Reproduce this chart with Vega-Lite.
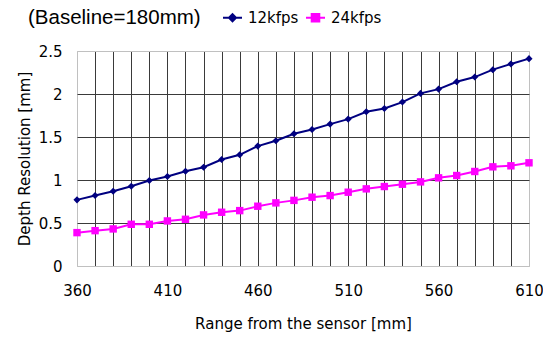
{
  "$schema": "https://vega.github.io/schema/vega-lite/v6.json",
  "width": 452,
  "height": 215,
  "autosize": "none",
  "padding": {"left": 77, "top": 51, "right": 14, "bottom": 71},
  "background": "white",
  "title": {
    "text": "(Baseline=180mm)",
    "anchor": "start",
    "frame": "group",
    "dx": -49,
    "dy": 21,
    "offset": 0,
    "font": "Liberation Sans",
    "fontSize": 20.5,
    "fontWeight": "normal",
    "color": "black"
  },
  "config": {
    "view": {"stroke": "#c0c0c0", "strokeWidth": 1},
    "font": "DejaVu Sans"
  },
  "data": {
    "values": [
      {"range": 360, "series": "12kfps", "res": 0.769},
      {"range": 370, "series": "12kfps", "res": 0.819},
      {"range": 380, "series": "12kfps", "res": 0.870},
      {"range": 390, "series": "12kfps", "res": 0.928},
      {"range": 400, "series": "12kfps", "res": 0.994},
      {"range": 410, "series": "12kfps", "res": 1.040},
      {"range": 420, "series": "12kfps", "res": 1.102},
      {"range": 430, "series": "12kfps", "res": 1.149},
      {"range": 440, "series": "12kfps", "res": 1.238},
      {"range": 450, "series": "12kfps", "res": 1.293},
      {"range": 460, "series": "12kfps", "res": 1.394},
      {"range": 470, "series": "12kfps", "res": 1.456},
      {"range": 480, "series": "12kfps", "res": 1.537},
      {"range": 490, "series": "12kfps", "res": 1.588},
      {"range": 500, "series": "12kfps", "res": 1.650},
      {"range": 510, "series": "12kfps", "res": 1.708},
      {"range": 520, "series": "12kfps", "res": 1.793},
      {"range": 530, "series": "12kfps", "res": 1.832},
      {"range": 540, "series": "12kfps", "res": 1.906},
      {"range": 550, "series": "12kfps", "res": 2.007},
      {"range": 560, "series": "12kfps", "res": 2.057},
      {"range": 570, "series": "12kfps", "res": 2.143},
      {"range": 580, "series": "12kfps", "res": 2.197},
      {"range": 590, "series": "12kfps", "res": 2.283},
      {"range": 600, "series": "12kfps", "res": 2.349},
      {"range": 610, "series": "12kfps", "res": 2.411},
      {"range": 360, "series": "24kfps", "res": 0.388},
      {"range": 370, "series": "24kfps", "res": 0.411},
      {"range": 380, "series": "24kfps", "res": 0.431},
      {"range": 390, "series": "24kfps", "res": 0.485},
      {"range": 400, "series": "24kfps", "res": 0.485},
      {"range": 410, "series": "24kfps", "res": 0.524},
      {"range": 420, "series": "24kfps", "res": 0.543},
      {"range": 430, "series": "24kfps", "res": 0.594},
      {"range": 440, "series": "24kfps", "res": 0.625},
      {"range": 450, "series": "24kfps", "res": 0.644},
      {"range": 460, "series": "24kfps", "res": 0.695},
      {"range": 470, "series": "24kfps", "res": 0.734},
      {"range": 480, "series": "24kfps", "res": 0.763},
      {"range": 490, "series": "24kfps", "res": 0.800},
      {"range": 500, "series": "24kfps", "res": 0.819},
      {"range": 510, "series": "24kfps", "res": 0.858},
      {"range": 520, "series": "24kfps", "res": 0.897},
      {"range": 530, "series": "24kfps", "res": 0.924},
      {"range": 540, "series": "24kfps", "res": 0.951},
      {"range": 550, "series": "24kfps", "res": 0.978},
      {"range": 560, "series": "24kfps", "res": 1.025},
      {"range": 570, "series": "24kfps", "res": 1.052},
      {"range": 580, "series": "24kfps", "res": 1.099},
      {"range": 590, "series": "24kfps", "res": 1.153},
      {"range": 600, "series": "24kfps", "res": 1.165},
      {"range": 610, "series": "24kfps", "res": 1.200}
    ]
  },
  "encoding": {
    "x": {
      "field": "range",
      "type": "quantitative",
      "scale": {"domain": [360, 610], "nice": false, "zero": false},
      "axis": {
        "title": "Range from the sensor [mm]",
        "values": [360,370,380,390,400,410,420,430,440,450,460,470,480,490,500,510,520,530,540,550,560,570,580,590,600,610],
        "labelExpr": "(datum.value - 360) % 50 == 0 ? datum.label : ''",
        "labelOverlap": false,
        "labelFlush": false,
        "ticks": false,
        "domain": false,
        "labelPadding": 17,
        "labelFontSize": 15,
        "labelColor": "black",
        "titleFontSize": 15,
        "titleFontWeight": "normal",
        "titleColor": "black",
        "titlePadding": 18,
        "gridColor": {"condition": {"test": "datum.value == 360 || datum.value == 610", "value": "#c0c0c0"}, "value": "#3a3a3a"},
        "gridOpacity": 1,
        "gridWidth": 1
      }
    },
    "y": {
      "field": "res",
      "type": "quantitative",
      "scale": {"domain": [0, 2.5], "nice": false},
      "axis": {
        "title": "Depth Resolution [mm]",
        "values": [0, 0.5, 1, 1.5, 2, 2.5],
        "format": "~g",
        "ticks": false,
        "domain": false,
        "labelPadding": 15,
        "labelFontSize": 15,
        "labelColor": "black",
        "titleFontSize": 15,
        "titleFontWeight": "normal",
        "titleColor": "black",
        "titlePadding": 6,
        "gridColor": {"condition": {"test": "datum.value == 0 || datum.value == 2.5", "value": "#c0c0c0"}, "value": "#3a3a3a"},
        "gridOpacity": 1,
        "gridWidth": 1
      }
    },
    "color": {
      "field": "series",
      "type": "nominal",
      "scale": {"domain": ["12kfps", "24kfps"], "range": ["#000080", "#FF00FF"]},
      "legend": {
        "title": null,
        "orient": "none",
        "direction": "horizontal",
        "legendX": 145,
        "legendY": -44,
        "labelFont": "DejaVu Sans",
        "labelFontSize": 15,
        "labelColor": "black",
        "labelOffset": 5,
        "columnPadding": 3,
        "symbolSize": 361,
        "symbolStrokeWidth": 2,
        "encode": {
          "symbols": {
            "update": {
              "shape": {"signal": "datum.value == '12kfps' ? 'M-1,0H1M-0.37,0L0,-0.37L0.37,0L0,0.37Z' : 'M-1,0H1M-0.4,-0.4H0.4V0.4H-0.4Z'"},
              "stroke": {"signal": "datum.value == '12kfps' ? '#000080' : '#FF00FF'"},
              "fill": {"signal": "datum.value == '12kfps' ? '#000080' : '#FF00FF'"},
              "strokeWidth": {"value": 2},
              "opacity": {"value": 1}
            }
          }
        }
      }
    }
  },
  "layer": [
    {"mark": {"type": "line", "strokeWidth": 2}},
    {
      "transform": [{"filter": "datum.series == '12kfps'"}],
      "mark": {"type": "point", "filled": true, "size": 50, "opacity": 1, "shape": "diamond"}
    },
    {
      "transform": [{"filter": "datum.series == '24kfps'"}],
      "mark": {"type": "point", "filled": true, "size": 55, "opacity": 1, "shape": "square"}
    }
  ]
}
